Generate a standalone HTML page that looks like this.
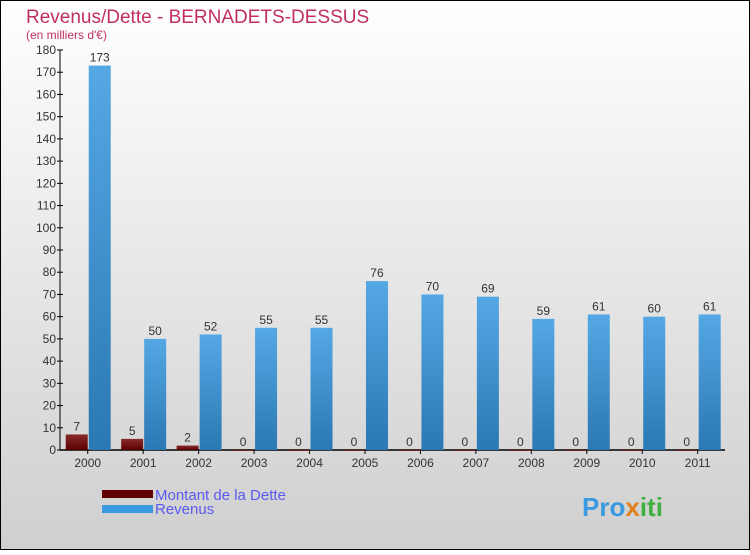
<!DOCTYPE html>
<html><head><meta charset="utf-8"><style>
body{margin:0}
svg text{font-family:"Liberation Sans",sans-serif}
</style></head><body>
<svg width="750" height="550" viewBox="0 0 750 550">
<defs>
<linearGradient id="bg" x1="0" y1="0" x2="0" y2="1"><stop offset="0" stop-color="#ffffff"/><stop offset="1" stop-color="#cfcfcf"/></linearGradient>
<linearGradient id="gr" x1="0" y1="0" x2="0" y2="1"><stop offset="0" stop-color="#55a8e4"/><stop offset="1" stop-color="#2a78b4"/></linearGradient>
<linearGradient id="gd" x1="0" y1="0" x2="0" y2="1"><stop offset="0" stop-color="#8a2a2a"/><stop offset="1" stop-color="#5a0000"/></linearGradient>
</defs>
<rect x="0.5" y="0.5" width="749" height="549" fill="url(#bg)" stroke="#000"/>
<text x="26" y="23" font-size="19" fill="#c0305e">Revenus/Dette - BERNADETS-DESSUS</text>
<text x="26" y="39" font-size="12" fill="#c0305e">(en milliers d'€)</text>
<g id="plot"></g>
<g>
<rect x="102" y="490" width="51" height="8" fill="#600000"/>
<text x="155" y="500" font-size="15" fill="#5a5af0">Montant de la Dette</text>
<rect x="102" y="505" width="51" height="8" fill="#3a9ae0"/>
<text x="155" y="514" font-size="15" fill="#5a5af0">Revenus</text>
</g>
<text x="582" y="516" font-size="26" font-weight="bold" fill="#3a9ae0">Pro<tspan fill="#e08020">x</tspan><tspan fill="#40b040">iti</tspan></text>
</svg>
<script>
const categories=["2000","2001","2002","2003","2004","2005","2006","2007","2008","2009","2010","2011"];
const dette=[7,5,2,0,0,0,0,0,0,0,0,0];
const revenus=[173,50,52,55,55,76,70,69,59,61,60,61];
const yTicks=[0,10,20,30,40,50,60,70,80,90,100,110,120,130,140,150,160,170,180];
const NS="http://www.w3.org/2000/svg";
const g=document.getElementById('plot');
const x0=60,yB=450,yT=50,yMax=180,step=55.45;
const y=v=>yB-(v/yMax)*(yB-yT);
const cx=i=>x0+step*(i+0.5);
function mk(t,a,p){const e=document.createElementNS(NS,t);for(const k in a)e.setAttribute(k,a[k]);(p||g).appendChild(e);return e;}
let ax=mk('line',{x1:x0,y1:yT,x2:x0,y2:yB,stroke:'#000'});


let bx=mk('line',{x1:x0,y1:yB,x2:725,y2:yB,stroke:'#000','stroke-width':1.5});


yTicks.forEach(v=>{
 let l=mk('line',{x1:x0-3,y1:y(v),x2:x0+3,y2:y(v),stroke:'#000'});
 
 
 let t=mk('text',{x:x0-4,y:y(v)+4,'font-size':12,fill:'#333','text-anchor':'end'});
 t.textContent=v;
 
 
});
categories.forEach((c,i)=>{
 const c0=cx(i);
 let tk=mk('line',{x1:c0,y1:yB,x2:c0,y2:yB+4,stroke:'#000'});
 
 
 let t=mk('text',{x:c0,y:467,'font-size':12,fill:'#333','text-anchor':'middle'});
 t.textContent=c;
 
 
 const hd=yB-y(dette[i]);
 let b1=mk('rect',{x:c0-22,y:y(dette[i]),width:22,height:Math.max(hd,0.8),fill:'url(#gd)'});
 
 
 let l1=mk('text',{x:c0-11,y:y(dette[i])-4,'font-size':12,fill:'#333','text-anchor':'middle'});
 l1.textContent=dette[i];
 
 
 let b2=mk('rect',{x:c0+1,y:y(revenus[i]),width:22,height:yB-y(revenus[i]),fill:'url(#gr)'});
 
 
 let l2=mk('text',{x:c0+12,y:y(revenus[i])-4,'font-size':12,fill:'#333','text-anchor':'middle'});
 l2.textContent=revenus[i];
 
 
});
</script>
</body></html>
